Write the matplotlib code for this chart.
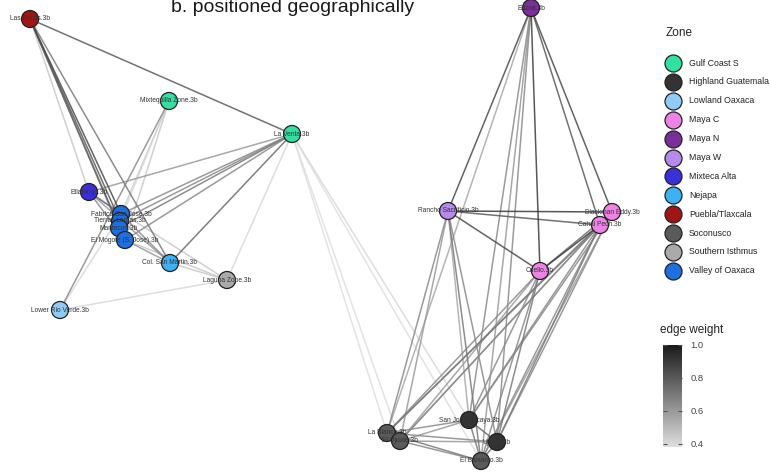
import matplotlib
matplotlib.use("Agg")
import matplotlib.pyplot as plt
from matplotlib.colors import LinearSegmentedColormap, Normalize
import matplotlib.colorbar as mcolorbar

plt.rcParams['font.family'] = ['Liberation Sans', 'DejaVu Sans']

# ---- data ----
zones = ["Gulf Coast S", "Highland Guatemala", "Lowland Oaxaca", "Maya C", "Maya N",
         "Maya W", "Mixteca Alta", "Nejapa", "Puebla/Tlaxcala", "Soconusco",
         "Southern Isthmus", "Valley of Oaxaca"]
zone_colors = ["#33e0a1", "#333333", "#8fcbf5", "#ee82e5", "#7a2f9a", "#b58ae8",
               "#3a2fd8", "#3fb0f0", "#a01515", "#5a5a5a", "#aaaaaa", "#1f6fe0"]

sites = ["Las Bocas.3b", "Mixtequilla Zone.3b", "La Venta.3b", "Etlatongo.3b",
         "Fabrica San Jose.3b", "Tierras Largas.3b", "Mantecon.3b", "El Mogote (S. Jose).3b",
         "Col. San Martin.3b", "Laguna Zope.3b", "Lower Rio Verde.3b",
         "Edzna.3b", "Rancho Sacrificio.3b", "Blackman Eddy.3b", "Cahal Pech.3b", "Cuello.3b",
         "La Blanca.3b", "El Ujuxte.3b", "San Jose Pacaya.3b", "Ujuxte.3b", "El Balsamo.3b"]
site_zone = ["Puebla/Tlaxcala", "Gulf Coast S", "Gulf Coast S", "Mixteca Alta",
             "Valley of Oaxaca", "Valley of Oaxaca", "Valley of Oaxaca", "Valley of Oaxaca",
             "Nejapa", "Southern Isthmus", "Lowland Oaxaca",
             "Maya N", "Maya W", "Maya C", "Maya C", "Maya C",
             "Soconusco", "Soconusco", "Highland Guatemala", "Highland Guatemala", "Soconusco"]
# layout coordinates (geographic projection, plot units)
site_x = [30, 169, 292, 89, 121, 120, 119, 125, 170, 227, 60,
          531, 448, 612, 600, 540, 387, 400, 469, 497, 481]
site_y = [19, 101, 134, 192, 214, 221, 228, 240, 263, 280, 310,
          8, 211, 212, 225, 271, 433, 441, 420, 442, 461]

edge_src = ["Las Bocas.3b"]*7 + ["Mixtequilla Zone.3b"]*4 + ["La Venta.3b"]*11 + \
    ["Etlatongo.3b"]*4 + ["Fabrica San Jose.3b", "El Mogote (S. Jose).3b", "El Mogote (S. Jose).3b",
                          "Col. San Martin.3b", "Lower Rio Verde.3b", "Lower Rio Verde.3b",
                          "Fabrica San Jose.3b", "Tierras Largas.3b", "Mantecon.3b"] + \
    ["Edzna.3b"]*8 + ["Rancho Sacrificio.3b"]*8 + ["Blackman Eddy.3b"]*6 + ["Cahal Pech.3b"]*6 + \
    ["Cuello.3b"]*5 + ["La Blanca.3b"]*4 + ["El Ujuxte.3b"]*3 + ["San Jose Pacaya.3b"]*2 + ["Ujuxte.3b"]
edge_dst = ["La Venta.3b", "Fabrica San Jose.3b", "Tierras Largas.3b", "Mantecon.3b",
            "El Mogote (S. Jose).3b", "Col. San Martin.3b", "Etlatongo.3b",
            "Lower Rio Verde.3b", "Fabrica San Jose.3b", "El Mogote (S. Jose).3b", "Tierras Largas.3b",
            "Etlatongo.3b", "Fabrica San Jose.3b", "Tierras Largas.3b", "Mantecon.3b",
            "El Mogote (S. Jose).3b", "Col. San Martin.3b", "Laguna Zope.3b",
            "La Blanca.3b", "El Ujuxte.3b", "San Jose Pacaya.3b", "El Balsamo.3b",
            "Fabrica San Jose.3b", "El Mogote (S. Jose).3b", "Col. San Martin.3b", "Laguna Zope.3b",
            "Col. San Martin.3b", "Col. San Martin.3b", "Laguna Zope.3b",
            "Laguna Zope.3b", "Laguna Zope.3b", "Fabrica San Jose.3b",
            "Tierras Largas.3b", "Mantecon.3b", "El Mogote (S. Jose).3b",
            "Rancho Sacrificio.3b", "Blackman Eddy.3b", "Cahal Pech.3b", "Cuello.3b",
            "San Jose Pacaya.3b", "Ujuxte.3b", "El Balsamo.3b", "La Blanca.3b",
            "Blackman Eddy.3b", "Cahal Pech.3b", "Cuello.3b", "La Blanca.3b",
            "El Ujuxte.3b", "El Balsamo.3b", "Ujuxte.3b", "San Jose Pacaya.3b",
            "Cuello.3b", "La Blanca.3b", "El Ujuxte.3b", "San Jose Pacaya.3b", "Ujuxte.3b", "El Balsamo.3b",
            "Cuello.3b", "La Blanca.3b", "El Ujuxte.3b", "San Jose Pacaya.3b", "Ujuxte.3b", "El Balsamo.3b",
            "La Blanca.3b", "San Jose Pacaya.3b", "Ujuxte.3b", "El Balsamo.3b", "El Ujuxte.3b",
            "El Ujuxte.3b", "San Jose Pacaya.3b", "Ujuxte.3b", "El Balsamo.3b",
            "El Balsamo.3b", "Ujuxte.3b", "San Jose Pacaya.3b",
            "Ujuxte.3b", "El Balsamo.3b",
            "El Balsamo.3b"]
edge_weight = [0.80, 0.85, 0.80, 0.75, 0.75, 0.70, 0.45,
               0.65, 0.42, 0.45, 0.40,
               0.60, 0.65, 0.65, 0.70, 0.65, 0.75, 0.40, 0.38, 0.38, 0.40, 0.38,
               0.75, 0.65, 0.60, 0.45,
               0.65, 0.60, 0.45, 0.45, 0.40, 0.40, 0.90, 0.90, 0.90,
               0.85, 0.85, 0.80, 0.90, 0.65, 0.65, 0.60, 0.55,
               0.90, 0.80, 0.85, 0.65, 0.60, 0.70, 0.65, 0.55,
               0.75, 0.65, 0.60, 0.65, 0.65, 0.60,
               0.90, 0.70, 0.65, 0.65, 0.70, 0.65,
               0.65, 0.65, 0.70, 0.65, 0.60,
               0.90, 0.65, 0.65, 0.70,
               0.65, 0.60, 0.60,
               0.75, 0.70,
               0.75]

cb_ticks = [0.4, 0.6, 0.8, 1.0]

# ---- drawing ----
W, H = 771, 472
fig = plt.figure(figsize=(W / 100, H / 100), dpi=100)
ax = fig.add_axes([0, 0, 1, 1])
ax.set_xlim(0, W)
ax.set_ylim(H, 0)
ax.axis("off")

cmap = LinearSegmentedColormap.from_list("edge", ["#dedede", "#1a1a1a"])
norm = Normalize(0.38, 1.0)

pos = {s: (x, y) for s, x, y in zip(sites, site_x, site_y)}
order = sorted(range(len(edge_weight)), key=lambda i: edge_weight[i])
for i in order:
    (x0, y0), (x1, y1) = pos[edge_src[i]], pos[edge_dst[i]]
    ax.plot([x0, x1], [y0, y1], color=cmap(norm(edge_weight[i])), lw=1.1,
            alpha=0.85, solid_capstyle="round", zorder=1)

zc = dict(zip(zones, zone_colors))
ax.scatter(site_x, site_y, s=150, c=[zc[z] for z in site_zone],
           edgecolors="#222222", linewidths=0.9, zorder=3)
for s, x, y in zip(sites, site_x, site_y):
    ax.text(x, y, s, fontsize=4.8, color="#333333", ha="center", va="center", zorder=4)

fig.text(293 / W, 1 - 12 / H, "b. positioned geographically", fontsize=14,
         color="#1a1a1a", ha="center", va="baseline")

# legend (manual, ggplot style)
ax.text(666, 33, "Zone", fontsize=8.5, color="#222222", ha="left", va="center")
for k, (z, c) in enumerate(zip(zones, zone_colors)):
    yy = 63 + k * 18.9
    ax.scatter([673], [yy], s=150, c=[c], edgecolors="#222222", linewidths=0.9, zorder=3)
    ax.text(689, yy, z, fontsize=6.3, color="#222222", ha="left", va="center")

# colorbar
ax.text(660, 330, "edge weight", fontsize=8.5, color="#222222", ha="left", va="center")
cax = fig.add_axes([663 / W, 1 - 447 / H, 19 / W, 102 / H])
cb = mcolorbar.ColorbarBase(cax, cmap=cmap, norm=norm, orientation="vertical")
cb.set_ticks(cb_ticks)
cb.set_ticklabels(["0.4", "0.6", "0.8", "1.0"])
cb.outline.set_visible(False)
cax.tick_params(axis="y", length=3, width=0.8, color="#555555", direction="in",
                labelsize=6.8, labelcolor="#444444", pad=6, left=True, right=True)

fig.savefig("out.png", dpi=100)
